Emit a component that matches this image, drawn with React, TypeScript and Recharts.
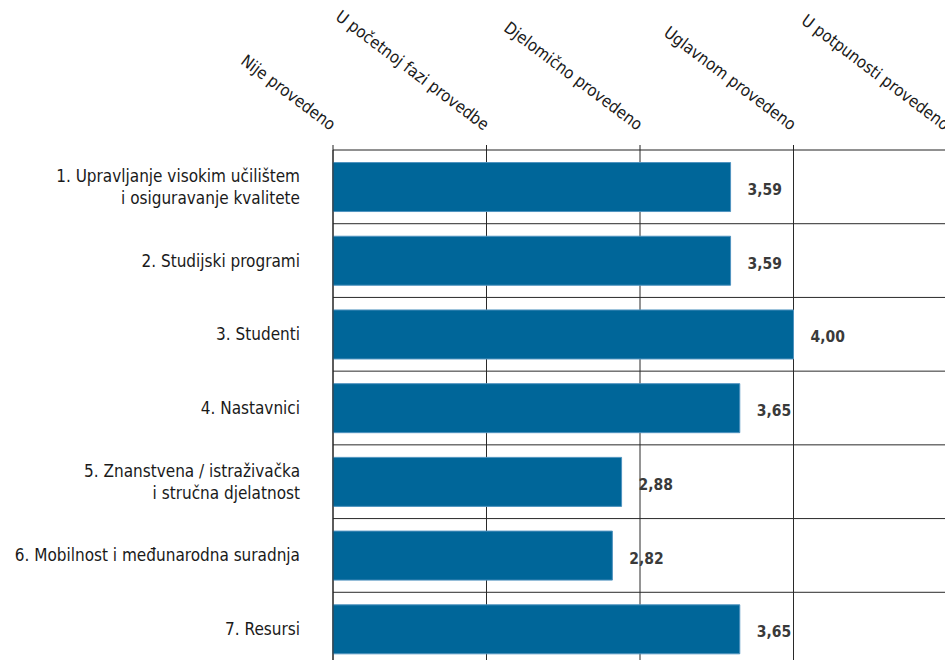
import { BarChart, Bar, XAxis, YAxis, CartesianGrid, LabelList } from "recharts";

const categories = [
  "1. Upravljanje visokim učilištem\ni osiguravanje kvalitete",
  "2. Studijski programi",
  "3. Studenti",
  "4. Nastavnici",
  "5. Znanstvena / istraživačka\ni stručna djelatnost",
  "6. Mobilnost i međunarodna suradnja",
  "7. Resursi",
];

const scores = [3.59, 3.59, 4.0, 3.65, 2.88, 2.82, 3.65];

const levelTicks = [1, 2, 3, 4, 5];
const levelLabels = [
  "Nije provedeno",
  "U početnoj fazi provedbe",
  "Djelomično provedeno",
  "Uglavnom provedeno",
  "U potpunosti provedeno",
];

const data = categories.map((name, i) => ({ name, score: scores[i] }));

const FONT = "'Liberation Sans Narrow', 'DejaVu Sans Condensed', 'Roboto', sans-serif";

function LevelTick(props: any) {
  const { x, y, payload } = props;
  const label = levelLabels[levelTicks.indexOf(payload.value)];
  const ax = x - 3;
  const ay = y - 12;
  return (
    <text
      x={ax}
      y={ay}
      textAnchor="end"
      transform={`rotate(37, ${ax}, ${ay})`}
      fontFamily={FONT}
      fontSize={16.6}
      fill="#1a1a1a"
    >
      {label}
    </text>
  );
}

function CategoryTick(props: any) {
  const { x, y, payload } = props;
  const lines = String(payload.value).split("\n");
  const lineH = 22;
  const startY = y - ((lines.length - 1) * lineH) / 2 + 6;
  return (
    <text x={x} y={startY} textAnchor="end" fontFamily={FONT} fontSize={17} fill="#1a1a1a">
      {lines.map((l, i) => (
        <tspan key={i} x={x} dy={i === 0 ? 0 : lineH}>
          {l}
        </tspan>
      ))}
    </text>
  );
}

function ValueLabel(props: any) {
  const { x, y, width, height, value } = props;
  return (
    <text
      x={x + width + 17}
      y={y + height / 2 + 8}
      fontFamily={FONT}
      fontSize={15.5}
      fontWeight="bold"
      fill="#3a3a3a"
    >
      {Number(value).toFixed(2).replace(".", ",")}
    </text>
  );
}

export default function App() {
  return (
    <div
      style={{
        position: "absolute",
        left: 0,
        top: 0,
        width: 945,
        height: 660,
        overflow: "hidden",
        background: "#fff",
      }}
    >
      <BarChart
        width={947}
        height={666}
        data={data}
        layout="vertical"
        margin={{ top: 0, right: 0, bottom: 0, left: 0 }}
        barCategoryGap="17%"
      >
        <CartesianGrid
          stroke="#2a2a2a"
          horizontalCoordinatesGenerator={({ offset }: any) =>
            [1, 2, 3, 4, 5, 6].map((k) => offset.top + (k * offset.height) / categories.length)
          }
        />
        <XAxis
          type="number"
          orientation="top"
          domain={[1, 5]}
          ticks={levelTicks}
          height={150}
          stroke="#222"
          tickSize={5}
          tick={<LevelTick />}
          interval={0}
        />
        <YAxis
          type="category"
          dataKey="name"
          width={333}
          stroke="#222"
          tickLine={false}
          tickSize={0}
          tickMargin={33}
          tick={<CategoryTick />}
          interval={0}
        />
        <Bar dataKey="score" fill="#006699" stroke="#4f93bf" strokeWidth={1} isAnimationActive={false}>
          <LabelList dataKey="score" content={<ValueLabel />} />
        </Bar>
      </BarChart>
    </div>
  );
}
